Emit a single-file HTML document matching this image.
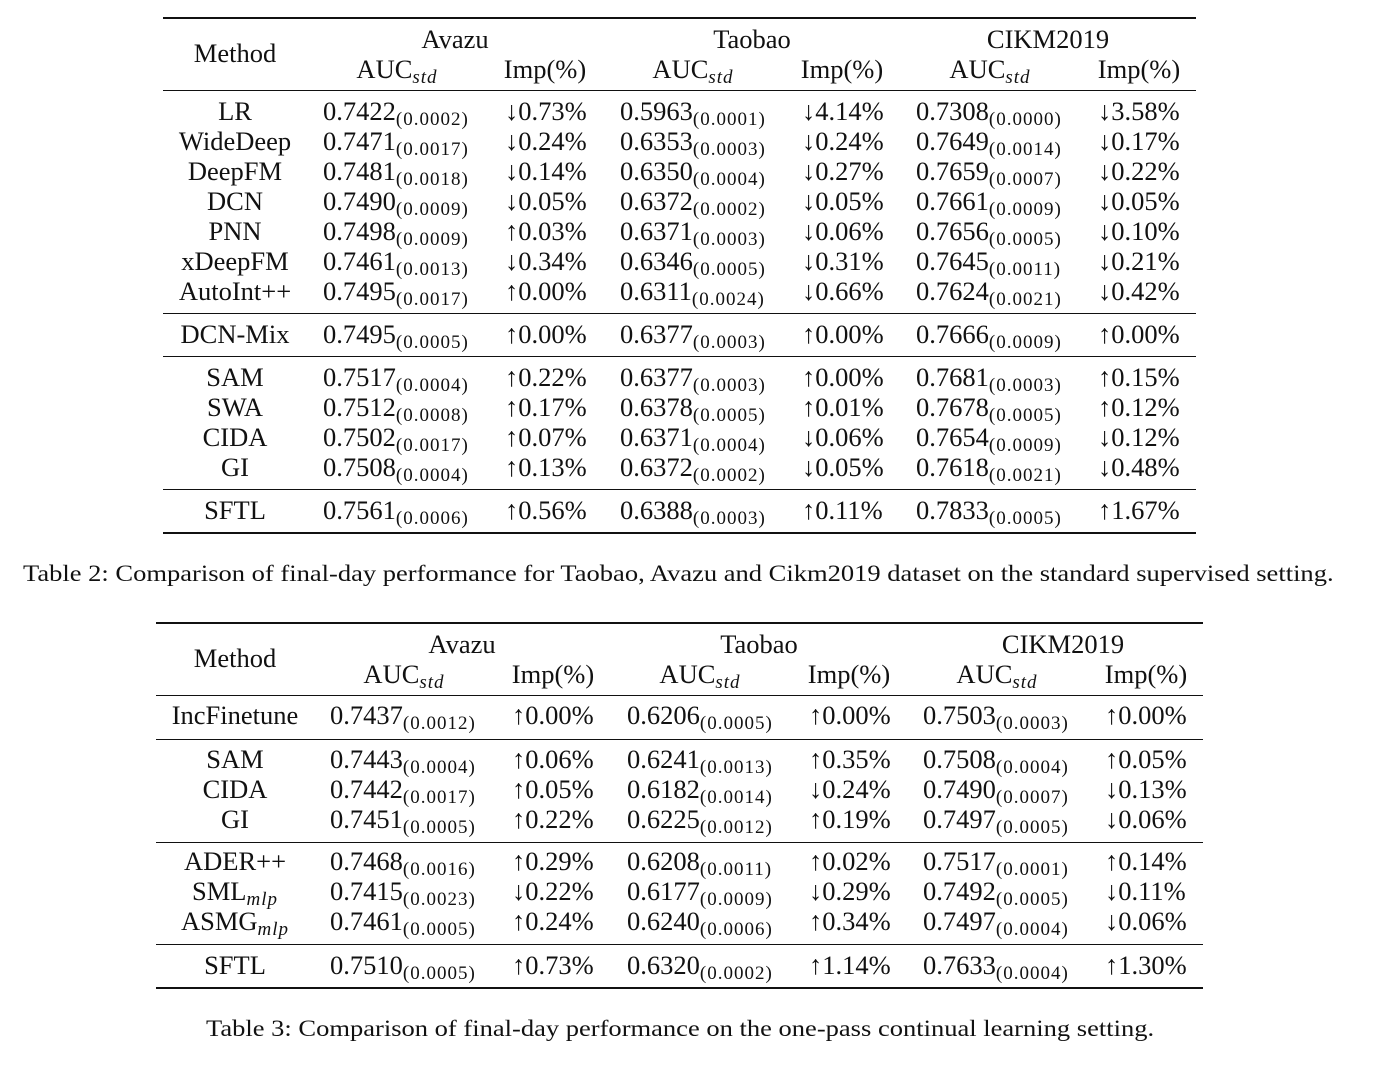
<!DOCTYPE html>
<html><head><meta charset="utf-8">
<style>
body{margin:0;width:1390px;height:1076px;background:#fff;position:relative;overflow:hidden;font-family:"Liberation Serif","DejaVu Serif",serif;color:#111;}
.t{position:absolute;white-space:nowrap;font-size:26.5px;line-height:30px;height:30px;}
.c{transform:translateX(-50%);}
sub{font-size:19px;letter-spacing:1px;vertical-align:-5px;line-height:0;}
.r{position:absolute;background:#111;}
.cap{position:absolute;font-size:23px;white-space:nowrap;line-height:26px;transform-origin:0 0;transform:scaleX(1.153);}
</style></head><body>
<div class="cap" style="left:23px;top:561px;">Table 2: Comparison of final-day performance for Taobao, Avazu and Cikm2019 dataset on the standard supervised setting.</div>
<div class="cap" style="left:206px;top:1016px;">Table 3: Comparison of final-day performance on the one-pass continual learning setting.</div>
<script>
const t2Methods=["LR","WideDeep","DeepFM","DCN","PNN","xDeepFM","AutoInt++","DCN-Mix","SAM","SWA","CIDA","GI","SFTL"];
const t2Rows=[112,142,172,202,232,262,292,335,378,408,438,468,511];
const t2Vals=[
["0.7422","0.0002","↓0.73%","0.5963","0.0001","↓4.14%","0.7308","0.0000","↓3.58%"],
["0.7471","0.0017","↓0.24%","0.6353","0.0003","↓0.24%","0.7649","0.0014","↓0.17%"],
["0.7481","0.0018","↓0.14%","0.6350","0.0004","↓0.27%","0.7659","0.0007","↓0.22%"],
["0.7490","0.0009","↓0.05%","0.6372","0.0002","↓0.05%","0.7661","0.0009","↓0.05%"],
["0.7498","0.0009","↑0.03%","0.6371","0.0003","↓0.06%","0.7656","0.0005","↓0.10%"],
["0.7461","0.0013","↓0.34%","0.6346","0.0005","↓0.31%","0.7645","0.0011","↓0.21%"],
["0.7495","0.0017","↑0.00%","0.6311","0.0024","↓0.66%","0.7624","0.0021","↓0.42%"],
["0.7495","0.0005","↑0.00%","0.6377","0.0003","↑0.00%","0.7666","0.0009","↑0.00%"],
["0.7517","0.0004","↑0.22%","0.6377","0.0003","↑0.00%","0.7681","0.0003","↑0.15%"],
["0.7512","0.0008","↑0.17%","0.6378","0.0005","↑0.01%","0.7678","0.0005","↑0.12%"],
["0.7502","0.0017","↑0.07%","0.6371","0.0004","↓0.06%","0.7654","0.0009","↓0.12%"],
["0.7508","0.0004","↑0.13%","0.6372","0.0002","↓0.05%","0.7618","0.0021","↓0.48%"],
["0.7561","0.0006","↑0.56%","0.6388","0.0003","↑0.11%","0.7833","0.0005","↑1.67%"]];
const t3Methods=["IncFinetune","SAM","CIDA","GI","ADER++","SML<sub><i>mlp</i></sub>","ASMG<sub><i>mlp</i></sub>","SFTL"];
const t3Rows=[716,760,790,820,862,892,922,966];
const t3Vals=[
["0.7437","0.0012","↑0.00%","0.6206","0.0005","↑0.00%","0.7503","0.0003","↑0.00%"],
["0.7443","0.0004","↑0.06%","0.6241","0.0013","↑0.35%","0.7508","0.0004","↑0.05%"],
["0.7442","0.0017","↑0.05%","0.6182","0.0014","↓0.24%","0.7490","0.0007","↓0.13%"],
["0.7451","0.0005","↑0.22%","0.6225","0.0012","↑0.19%","0.7497","0.0005","↓0.06%"],
["0.7468","0.0016","↑0.29%","0.6208","0.0011","↑0.02%","0.7517","0.0001","↑0.14%"],
["0.7415","0.0023","↓0.22%","0.6177","0.0009","↓0.29%","0.7492","0.0005","↓0.11%"],
["0.7461","0.0005","↑0.24%","0.6240","0.0006","↑0.34%","0.7497","0.0004","↓0.06%"],
["0.7510","0.0005","↑0.73%","0.6320","0.0002","↑1.14%","0.7633","0.0004","↑1.30%"]];
function txt(x,y,html,center,name){
  const d=document.createElement('div');
  d.className='t'+(center?' c':'');
  d.style.left=x+'px';d.style.top=(y-16)+'px';
  d.innerHTML=html;
  
  
  document.body.appendChild(d);
}
function rule(x1,x2,y,h,name){
  const d=document.createElement('div');
  d.className='r';
  d.style.left=x1+'px';d.style.width=(x2-x1)+'px';d.style.top=y+'px';d.style.height=h+'px';
  
  
  document.body.appendChild(d);
}
function table(prefix,x1,x2,topY,methodX,dsCenters,aucX,impX,valX,impValX,methods,rows,vals,rules){
  rule(x1,x2,topY,2,prefix+'-top-rule');
  txt(methodX,topY+37,'Method',true,prefix+'-method-header');
  const ds=["Avazu","Taobao","CIKM2019"];
  for(let i=0;i<3;i++){
    txt(dsCenters[i],topY+23,ds[i],true,prefix+'-dataset-header');
    txt(aucX[i],topY+53,'AUC<sub><i>std</i></sub>',true,prefix+'-auc-header');
    txt(impX[i],topY+53,'Imp(%)',true,prefix+'-imp-header');
  }
  rules.forEach((y,k)=>rule(x1,x2,y,k===rules.length-1?2:1,prefix+'-rule'));
  methods.forEach((m,r)=>{
    txt(methodX,rows[r],m,true,prefix+'-method-cell');
    for(let i=0;i<3;i++){
      txt(valX[i],rows[r],vals[r][i*3]+'<sub>('+vals[r][i*3+1]+')</sub>',false,prefix+'-auc-cell');
      txt(impValX[i],rows[r],vals[r][i*3+2],false,prefix+'-imp-cell');
    }
  });
}
table('table2',163,1196,17,235,[455,752,1048],[397,693,990],[545,842,1139],[323,620,916],[505,802,1098],t2Methods,t2Rows,t2Vals,[90,313,356,489,532]);
table('table3',156,1203,622,235,[462,759,1063],[404,700,997],[553,849,1146],[330,627,923],[512,809,1105],t3Methods,t3Rows,t3Vals,[695,739,842,944,987]);
</script>
</body></html>
